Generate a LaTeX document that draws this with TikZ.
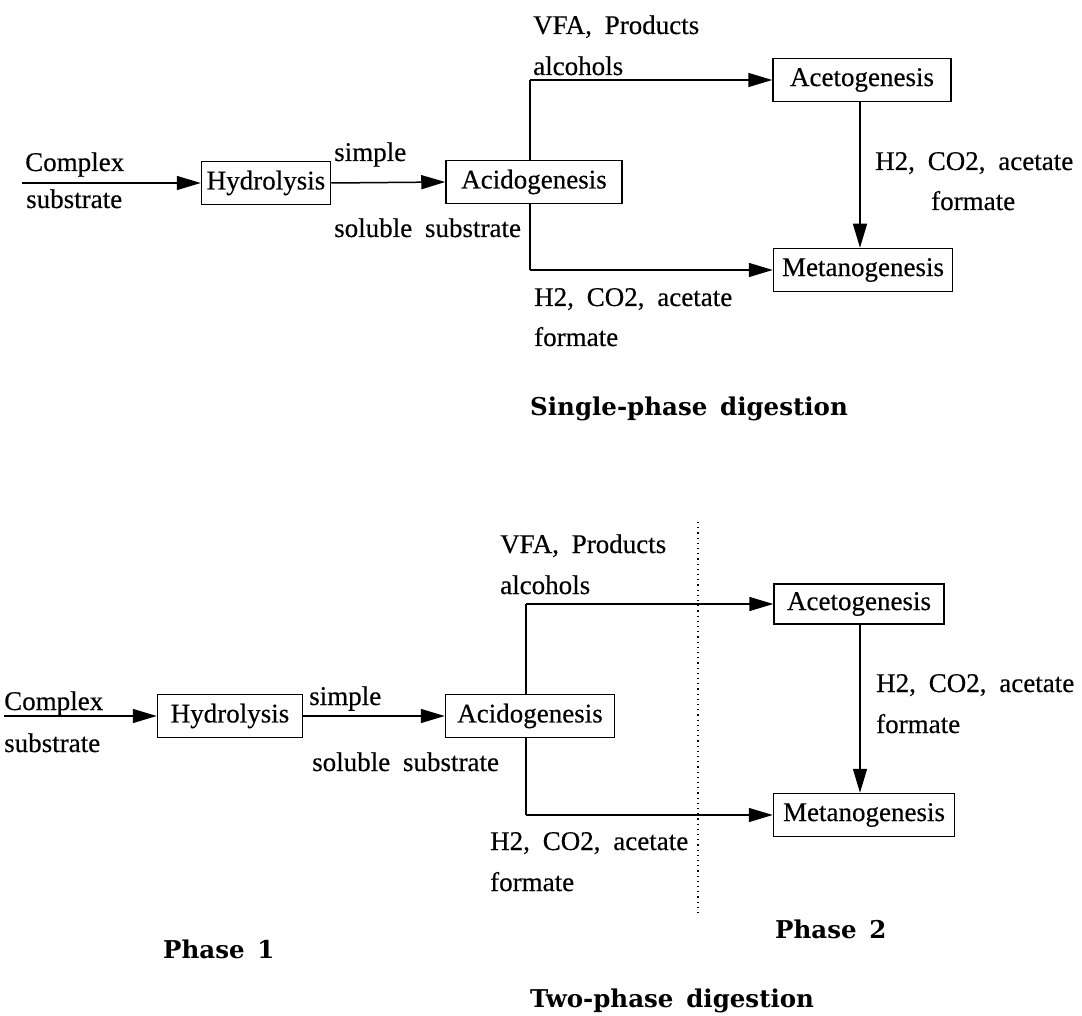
\documentclass[tikz,border=0pt]{standalone}
\usepackage{fontspec}
\setmainfont{Liberation Serif}[WordSpace=1.9, FakeBold=0.4]
\newfontfamily\headfamily{DejaVu Serif}[WordSpace=1.5]
\usetikzlibrary{arrows.meta}
\newcommand\labfont{\fontsize{27}{32}\selectfont}
\newcommand\headfont{\headfamily\bfseries\fontsize{24.5}{28}\selectfont}

\begin{document}
\begin{tikzpicture}[x=1pt,y=-1pt,
  proc/.style={draw, line width=1.5pt, minimum height=43pt, inner sep=0pt, font=\labfont},
  lab/.style={anchor=base west, inner sep=0pt, font=\labfont},
  head/.style={anchor=base west, inner sep=0pt, font=\headfont},
  link/.style={line width=1.5pt},
  flow/.style={line width=1.5pt, -{Triangle[length=24pt,width=14pt]}},
  phase/.style={line width=1.2pt, dash pattern=on 1.2pt off 4pt}]
\useasboundingbox (0,0) rectangle (1082,1016);

% ---------- single-phase digestion ----------
\node[proc, minimum width=129pt] (hyd1) at (266,183) {Hydrolysis};
\node[proc, minimum width=176pt] (acid1) at (534,182) {Acidogenesis};
\node[proc, minimum width=178pt] (aceto1) at (862,80) {Acetogenesis};
\node[proc, minimum width=179pt] (meta1) at (863,270) {Metanogenesis};
\coordinate (in1) at (22,183);
\coordinate (up1) at (530,80);
\coordinate (dn1) at (530,270);

\draw[flow] (in1) -- (hyd1.west);
\draw[flow] (hyd1.east) -- (acid1.west);
\draw[link] (acid1.north -| up1) -- (up1);
\draw[flow] (up1) -- (aceto1.west);
\draw[link] (acid1.south -| dn1) -- (dn1);
\draw[flow] (dn1) -- (meta1.west);
\draw[flow] (aceto1.south -| 860,0) -- (meta1.north -| 860,0);

\node[lab] (cx1) at (25,171) {Complex};
\node[lab] (sb1) at (26,208) {substrate};
\node[lab] (sm1) at (334,161) {simple};
\node[lab] (ss1) at (334,237) {soluble substrate};
\node[lab] (vfa1) at (533,34) {VFA, Products};
\node[lab] (alc1) at (533,75) {alcohols};
\node[lab] (ha1) at (875,170) {H2, CO2, acetate};
\node[lab] (fa1) at (931,210) {formate};
\node[lab] (hb1) at (534,306) {H2, CO2, acetate};
\node[lab] (fb1) at (534,346) {formate};
\node[head] (t1) at (530,415) {Single-phase digestion};

% ---------- two-phase digestion ----------
\node[proc, minimum width=145pt] (hyd2) at (230,716) {Hydrolysis};
\node[proc, minimum width=169pt] (acid2) at (530,716) {Acidogenesis};
\node[proc, minimum width=170pt, minimum height=40pt] (aceto2) at (859,604) {Acetogenesis};
\node[proc, minimum width=181pt] (meta2) at (864,815) {Metanogenesis};
\coordinate (in2) at (4,716);
\coordinate (up2) at (526,604);
\coordinate (dn2) at (526,815);

\draw[flow] (in2) -- (hyd2.west);
\draw[flow] (hyd2.east) -- (acid2.west);
\draw[link] (acid2.north -| up2) -- (up2);
\draw[flow] (up2) -- (aceto2.west);
\draw[link] (acid2.south -| dn2) -- (dn2);
\draw[flow] (dn2) -- (meta2.west);
\draw[flow] (aceto2.south -| 860,0) -- (meta2.north -| 860,0);

% boundary between the two reactors
\coordinate (sepT) at (698,522);
\coordinate (sepB) at (698,913);
\draw[phase] (sepT) -- (sepB);

\node[lab] (cx2) at (4,710) {Complex};
\node[lab] (sb2) at (4,752) {substrate};
\node[lab] (sm2) at (309,705) {simple};
\node[lab] (ss2) at (312,771) {soluble substrate};
\node[lab] (vfa2) at (500,553) {VFA, Products};
\node[lab] (alc2) at (500,594) {alcohols};
\node[lab] (ha2) at (876,692) {H2, CO2, acetate};
\node[lab] (fa2) at (876,733) {formate};
\node[lab] (hb2) at (490,850) {H2, CO2, acetate};
\node[lab] (fb2) at (490,891) {formate};
\node[head] (p1) at (163,958) {Phase 1};
\node[head] (p2) at (775,938) {Phase 2};
\node[head] (t2) at (530,1007) {Two-phase digestion};
\end{tikzpicture}
\end{document}
